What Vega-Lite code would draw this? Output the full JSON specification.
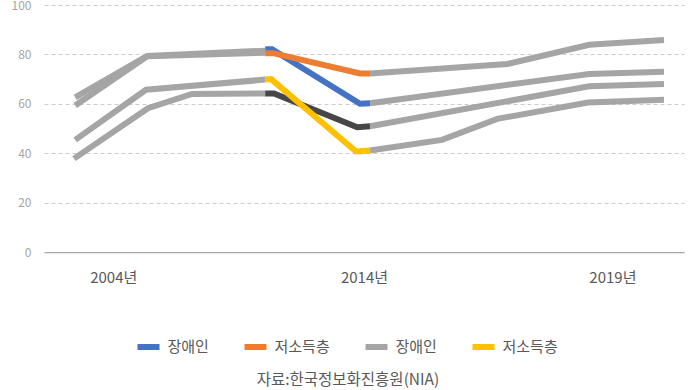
{
  "$schema": "https://vega.github.io/schema/vega-lite/v6.json",
  "width": 640,
  "height": 247,
  "autosize": {"type": "none"},
  "padding": {"left": 44, "top": 5, "right": 12, "bottom": 138},
  "background": "white",
  "config": {"font": "Noto Sans CJK KR", "view": {"stroke": null}},
  "data": {
    "values": [
      {"group": "장애인", "part": "early", "legend": "전체", "t": 0.78, "value": 62.6},
      {"group": "장애인", "part": "early", "legend": "전체", "t": 2.58, "value": 79.4},
      {"group": "장애인", "part": "early", "legend": "전체", "t": 5.53, "value": 81.5},
      {"group": "장애인", "part": "mid", "legend": "장애인", "t": 5.53, "value": 82.1},
      {"group": "장애인", "part": "mid", "legend": "장애인", "t": 5.7, "value": 82.1},
      {"group": "장애인", "part": "mid", "legend": "장애인", "t": 7.9, "value": 60.0},
      {"group": "장애인", "part": "mid", "legend": "장애인", "t": 8.15, "value": 60.2},
      {"group": "장애인", "part": "late", "legend": "전체", "t": 8.15, "value": 60.2},
      {"group": "장애인", "part": "late", "legend": "전체", "t": 13.63, "value": 72.1},
      {"group": "장애인", "part": "late", "legend": "전체", "t": 15.5, "value": 73.0},

      {"group": "저소득층", "part": "early", "legend": "전체", "t": 0.78, "value": 59.3},
      {"group": "저소득층", "part": "early", "legend": "전체", "t": 2.58, "value": 79.2},
      {"group": "저소득층", "part": "early", "legend": "전체", "t": 5.53, "value": 80.7},
      {"group": "저소득층", "part": "mid", "legend": "저소득층", "t": 5.53, "value": 80.5},
      {"group": "저소득층", "part": "mid", "legend": "저소득층", "t": 5.73, "value": 80.5},
      {"group": "저소득층", "part": "mid", "legend": "저소득층", "t": 7.9, "value": 72.3},
      {"group": "저소득층", "part": "mid", "legend": "저소득층", "t": 8.15, "value": 72.3},
      {"group": "저소득층", "part": "late", "legend": "전체", "t": 8.15, "value": 72.3},
      {"group": "저소득층", "part": "late", "legend": "전체", "t": 11.58, "value": 76.1},
      {"group": "저소득층", "part": "late", "legend": "전체", "t": 13.63, "value": 83.9},
      {"group": "저소득층", "part": "late", "legend": "전체", "t": 15.5, "value": 85.8},

      {"group": "농어민", "part": "early", "legend": "전체", "t": 0.75, "value": 37.8},
      {"group": "농어민", "part": "early", "legend": "전체", "t": 2.6, "value": 58.2},
      {"group": "농어민", "part": "early", "legend": "전체", "t": 3.7, "value": 64.0},
      {"group": "농어민", "part": "early", "legend": "전체", "t": 5.53, "value": 64.2},
      {"group": "농어민", "part": "mid", "legend": "농어민", "t": 5.53, "value": 64.2},
      {"group": "농어민", "part": "mid", "legend": "농어민", "t": 5.75, "value": 64.2},
      {"group": "농어민", "part": "mid", "legend": "농어민", "t": 7.83, "value": 50.5},
      {"group": "농어민", "part": "mid", "legend": "농어민", "t": 8.15, "value": 50.9},
      {"group": "농어민", "part": "late", "legend": "전체", "t": 8.15, "value": 50.9},
      {"group": "농어민", "part": "late", "legend": "전체", "t": 13.63, "value": 67.1},
      {"group": "농어민", "part": "late", "legend": "전체", "t": 15.5, "value": 68.0},

      {"group": "장노년층", "part": "early", "legend": "전체", "t": 0.78, "value": 45.4},
      {"group": "장노년층", "part": "early", "legend": "전체", "t": 2.55, "value": 65.7},
      {"group": "장노년층", "part": "early", "legend": "전체", "t": 5.53, "value": 69.8},
      {"group": "장노년층", "part": "mid", "legend": "장노년층", "t": 5.53, "value": 69.8},
      {"group": "장노년층", "part": "mid", "legend": "장노년층", "t": 5.68, "value": 70.0},
      {"group": "장노년층", "part": "mid", "legend": "장노년층", "t": 7.8, "value": 40.7},
      {"group": "장노년층", "part": "mid", "legend": "장노년층", "t": 8.15, "value": 41.1},
      {"group": "장노년층", "part": "late", "legend": "전체", "t": 8.15, "value": 41.1},
      {"group": "장노년층", "part": "late", "legend": "전체", "t": 9.95, "value": 45.4},
      {"group": "장노년층", "part": "late", "legend": "전체", "t": 11.33, "value": 53.9},
      {"group": "장노년층", "part": "late", "legend": "전체", "t": 13.6, "value": 60.5},
      {"group": "장노년층", "part": "late", "legend": "전체", "t": 15.5, "value": 61.6}
    ]
  },
  "encoding": {
    "x": {
      "field": "t",
      "type": "quantitative",
      "scale": {"domain": [0, 16], "nice": false, "zero": false},
      "axis": {
        "values": [1.73, 8.0, 14.21],
        "labelExpr": "datum.value < 5 ? '2004년' : datum.value < 10 ? '2014년' : '2019년'",
        "grid": false,
        "ticks": false,
        "tickSize": 0,
        "domainColor": "#a6a6a6",
        "domainWidth": 1.25,
        "labelFontSize": 15,
        "labelColor": "#595959",
        "labelPadding": 25,
        "labelBaseline": "middle",
        "labelFlush": false,
        "title": "자료:한국정보화진흥원(NIA)",
        "titleFontSize": 15.5,
        "titleFontWeight": "normal",
        "titleColor": "#595959",
        "titleX": 303.5,
        "titleY": 127,
        "titleAlign": "center",
        "titleBaseline": "middle"
      }
    },
    "y": {
      "field": "value",
      "type": "quantitative",
      "scale": {"domain": [0, 100], "nice": false},
      "axis": {
        "values": [0, 20, 40, 60, 80, 100],
        "title": null,
        "domain": false,
        "ticks": false,
        "tickSize": 0,
        "labelPadding": 13,
        "labelFontSize": 12,
        "labelColor": "#a6a6a6",
        "gridColor": "#cccccc",
        "gridDash": [4, 3],
        "gridWidth": 1
      }
    },
    "color": {
      "field": "legend",
      "type": "nominal",
      "scale": {
        "domain": ["장애인", "저소득층", "전체", "장노년층", "농어민"],
        "range": ["#4472c4", "#ed7d31", "#a5a5a5", "#ffc000", "#474747"]
      },
      "legend": {
        "orient": "none",
        "legendX": 90.5,
        "legendY": 328,
        "direction": "horizontal",
        "title": null,
        "values": ["장애인", "저소득층", "전체", "장노년층"],
        "labelExpr": "datum.label == '전체' ? '장애인' : datum.label == '장노년층' ? '저소득층' : datum.label",
        "symbolType": "stroke",
        "symbolSize": 484,
        "symbolStrokeWidth": 6,
        "labelFontSize": 15,
        "labelColor": "#595959",
        "labelOffset": 5,
        "columnPadding": 23,
        "padding": 0
      }
    }
  },
  "layer": [
    {
      "transform": [{"filter": "datum.part != 'mid'"}],
      "mark": {"type": "line", "strokeWidth": 6, "strokeCap": "butt"},
      "encoding": {"detail": [{"field": "group"}, {"field": "part"}]}
    },
    {
      "transform": [{"filter": "datum.part == 'mid'"}],
      "mark": {"type": "line", "strokeWidth": 6, "strokeCap": "butt"},
      "encoding": {"detail": {"field": "group"}}
    }
  ]
}
